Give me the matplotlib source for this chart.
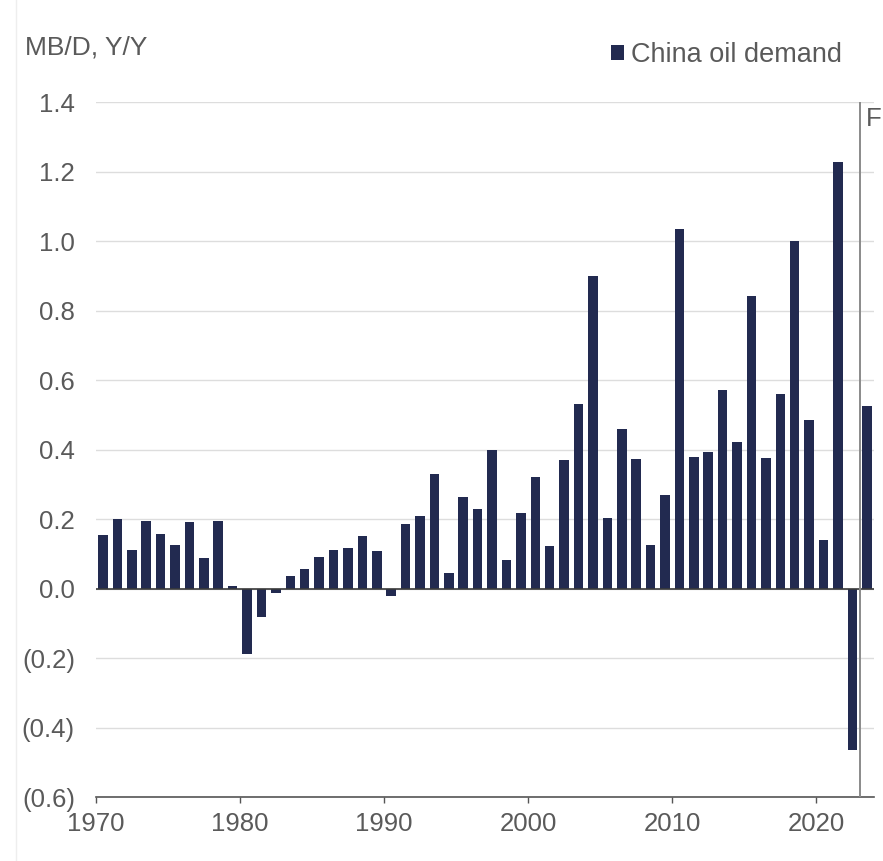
import numpy as np
import matplotlib
matplotlib.use('Agg')
import matplotlib.pyplot as plt
from matplotlib.lines import Line2D
from matplotlib.ticker import FuncFormatter

plt.rcParams['font.family'] = ['Liberation Sans', 'DejaVu Sans']

# year-on-year change in China oil demand, MB/D (1970 .. 2023, last year forecast)
years = list(range(1970, 2024))
demand_change = [
    0.154, 0.199, 0.110, 0.194, 0.157, 0.125, 0.191, 0.089, 0.194, 0.008,
    -0.187, -0.082, -0.013, 0.035, 0.056, 0.090, 0.112, 0.118, 0.151, 0.107,
    -0.021, 0.187, 0.208, 0.331, 0.046, 0.263, 0.229, 0.400, 0.082, 0.218,
    0.320, 0.121, 0.369, 0.530, 0.900, 0.202, 0.459, 0.373, 0.125, 0.268,
    1.035, 0.379, 0.394, 0.571, 0.421, 0.842, 0.375, 0.561, 1.000, 0.484,
    0.139, 1.226, -0.466, 0.524,
]
series_name = 'China oil demand'
forecast_start = 2023
decade_ticks = [1970, 1980, 1990, 2000, 2010, 2020]
y_ticks = [-0.6, -0.4, -0.2, 0.0, 0.2, 0.4, 0.6, 0.8, 1.0, 1.2, 1.4]

bar_color = '#222a50'
text_color = '#5a5a5a'


def fmt(v, pos):
    if v < -1e-9:
        return '({0:.1f})'.format(-v)
    return '{0:.1f}'.format(abs(v))


fig = plt.figure(figsize=(8.83, 8.61), dpi=100)
ax = fig.add_axes([0.1084, 0.0743, 0.8814, 0.8072])

x = np.array(years) + 0.5
bars = ax.bar(x, demand_change, width=0.66, color=bar_color, zorder=3,
              label=series_name)

ax.set_xlim(1970, 2024)
ax.set_ylim(-0.6, 1.4)
ax.set_yticks(y_ticks)
ax.yaxis.set_major_formatter(FuncFormatter(fmt))
ax.set_xticks(decade_ticks)

ax.grid(axis='y', color='#dddddd', linewidth=1.0, zorder=0)
ax.axhline(0, color='#3a3a3a', linewidth=1.2, zorder=4)
ax.axvline(forecast_start, color='#8a8a8a', linewidth=1.4, zorder=5)
ax.text(forecast_start + 0.45, 1.385, 'F', color=text_color, fontsize=18.5,
        ha='left', va='top')

for side in ['left', 'right', 'top']:
    ax.spines[side].set_visible(False)
ax.spines['bottom'].set_color('#555555')
ax.spines['bottom'].set_linewidth(1.2)

ax.tick_params(axis='y', length=0, pad=15, labelsize=18.5, labelcolor=text_color)
ax.tick_params(axis='x', length=4.5, width=1.0, color='#555555', pad=6,
               labelsize=18.5, labelcolor=text_color)

fig.text(25 / 883, 1 - 55 / 861, 'MB/D, Y/Y', fontsize=19, color=text_color,
         va='baseline', ha='left')

ax.legend(loc='center right', bbox_to_anchor=(842 / 883, 1 - 55 / 861),
          bbox_transform=fig.transFigure, frameon=False, fontsize=19.5,
          handlelength=0.5, handleheight=0.5, handletextpad=0.25,
          borderpad=0, borderaxespad=0, labelcolor=text_color)

fig.add_artist(Line2D([16 / 883, 16 / 883], [0, 1], color='#eeeeee',
                      linewidth=1.0, transform=fig.transFigure))

fig.savefig('out.png', dpi=100)
